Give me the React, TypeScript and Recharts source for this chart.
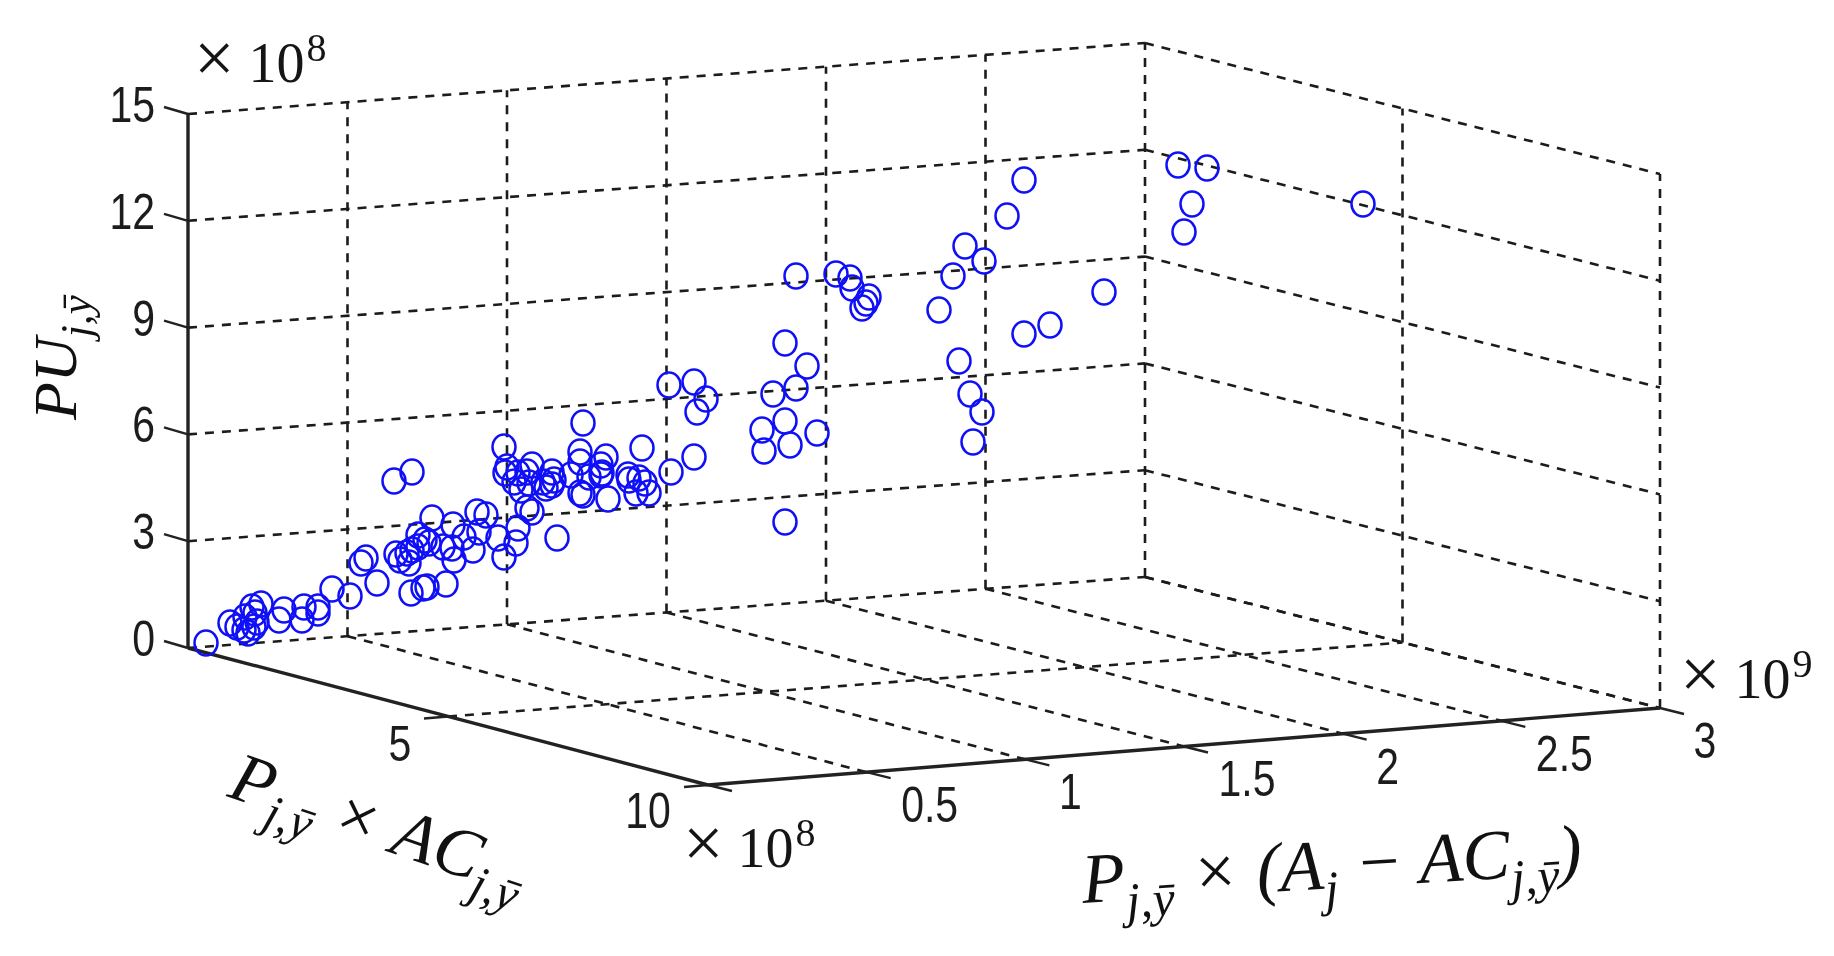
import { ReferenceLine, Scatter, ScatterChart, XAxis, YAxis } from 'recharts';

const WIDTH = 1834;
const HEIGHT = 956;

// Axis ticks, in the plot's own units
const xTicks = [0.5, 1, 1.5, 2, 2.5, 3]; // x 10^9
const yTicks = [5, 10]; // x 10^8
const zTicks = [0, 3, 6, 9, 12, 15]; // x 10^8
const xMax = 3;
const yMax = 10;
const zMax = 15;

// The circles: only their projected position is known,
// so they are kept in picture-plane units (left to right, top to bottom)
const pointPlaneX = [
  1178, 1207, 1192, 1184, 1363, 1024, 1007, 965, 984, 953, 939, 796, 836, 850, 852, 869, 866, 862,
  1104, 1050, 1024, 959, 970, 982, 973, 785, 807, 773, 796, 762, 785, 817, 764, 790, 785, 669, 694,
  706, 697, 642, 694, 671, 606, 628, 639, 636, 649, 608, 602, 583, 580, 580, 601, 601, 580, 583,
  504, 505, 514, 532, 527, 552, 554, 546, 552, 521, 527, 532, 518, 516, 504, 557, 412, 394, 477,
  486, 432, 453, 418, 479, 498, 452, 429, 473, 396, 412, 409, 454, 366, 361, 377, 427, 446, 411,
  423, 332, 350, 261, 252, 284, 304, 318, 255, 279, 302, 318, 237, 254, 244, 206,
  400, 407, 418, 425, 443, 464, 507, 518, 529, 571, 589, 629, 645, 245, 257, 248, 230, 543,
];
const pointPlaneY = [
  165, 168, 204, 232, 204, 180, 216, 246, 261, 276, 310, 276, 274, 278, 288, 297, 303, 308,
  292, 325, 334, 361, 394, 412, 442, 343, 366, 394, 388, 430, 421, 433, 451, 445, 522, 385, 382,
  399, 412, 448, 457, 472, 457, 475, 478, 493, 493, 499, 473, 423, 452, 462, 465, 475, 493, 495,
  447, 473, 482, 465, 472, 472, 480, 488, 485, 490, 508, 512, 528, 543, 557, 538, 472, 481, 512,
  515, 518, 525, 535, 532, 538, 548, 543, 550, 554, 550, 563, 560, 558, 563, 583, 587, 584, 593,
  588, 589, 596, 604, 607, 610, 607, 607, 613, 620, 620, 613, 627, 627, 630, 643,
  560, 553, 547, 540, 547, 537, 467, 473, 483, 475, 477, 480, 483, 617, 622, 633, 623, 482,
];

const points = pointPlaneX.map((px, i) => ({ px, py: pointPlaneY[i] }));

// Floor corners of the plot box on the picture plane, slight perspective included
const FLOOR_A = { px: 188, py: 648 }; // x=0, y=0
const FLOOR_B = { px: 708, py: 785 }; // x=0, y=max
const FLOOR_C = { px: 1660, py: 708 }; // x=max, y=max
const FLOOR_D = { px: 1145, py: 577 }; // x=max, y=0
const BOX_HEIGHT = 534;

function project(x: number, y: number, z: number) {
  const a = x / xMax;
  const b = y / yMax;
  const c = z / zMax;
  const mix = (k: 'px' | 'py') =>
    FLOOR_A[k] * (1 - a) * (1 - b) + FLOOR_D[k] * a * (1 - b) + FLOOR_B[k] * (1 - a) * b + FLOOR_C[k] * a * b;
  return { px: mix('px'), py: mix('py') - c * BOX_HEIGHT };
}

type Pt = { px: number; py: number };
type Seg = [Pt, Pt];

const gridSegments: Seg[] = [
  // back-left wall
  ...zTicks.map((z): Seg => [project(0, 0, z), project(xMax, 0, z)]),
  ...xTicks.map((x): Seg => [project(x, 0, 0), project(x, 0, zMax)]),
  // back-right wall
  ...zTicks.map((z): Seg => [project(xMax, 0, z), project(xMax, yMax, z)]),
  ...yTicks.map((y): Seg => [project(xMax, y, 0), project(xMax, y, zMax)]),
  // floor
  ...xTicks.map((x): Seg => [project(x, 0, 0), project(x, yMax, 0)]),
  [project(0, 5, 0), project(xMax, 5, 0)],
];

const axisSegments: Seg[] = [
  [project(0, 0, 0), project(0, 0, zMax)],
  [project(0, 0, 0), project(0, yMax, 0)],
  [project(0, yMax, 0), project(xMax, yMax, 0)],
];

const shift = (p: Pt, dx: number, dy: number): Pt => ({ px: p.px + dx, py: p.py + dy });

const tickSegments: Seg[] = [
  ...zTicks.map((z): Seg => {
    const p = project(0, 0, z);
    return [p, shift(p, -24, -7)];
  }),
  ...[0, ...xTicks].map((x): Seg => {
    const p = project(x, yMax, 0);
    return [p, shift(p, 24, 6)];
  }),
  ...yTicks.map((y): Seg => {
    const p = project(0, y, 0);
    return [p, shift(p, -24, 2)];
  }),
];

const tickLabels = [
  ...zTicks.map((z) => ({ ...shift(project(0, 0, z), -33, -9), text: String(z), anchor: 'end' })),
  ...xTicks.map((x) => ({
    ...shift(project(x, yMax, 0), Number.isInteger(x) ? 45 : 63, 33),
    text: String(x),
    anchor: 'middle',
  })),
  { ...shift(project(0, 5, 0), -48, 28), text: '5', anchor: 'middle' },
  { ...shift(project(0, 10, 0), -60, 26), text: '10', anchor: 'middle' },
];

function TickLabel(props: any) {
  const { cx, cy, payload } = props;
  return (
    <text
      transform={`translate(${cx} ${cy}) scale(0.82 1)`}
      textAnchor={payload.anchor}
      dominantBaseline="central"
      fontFamily="'Liberation Sans', Arial, sans-serif"
      fontSize={50}
      fill="#1c1c1c"
    >
      {payload.text}
    </text>
  );
}

// "x 10^n" multipliers
const multipliers = [
  { px: 194, py: 82, exp: '8' },
  { px: 683, py: 867, exp: '8' },
  { px: 1680, py: 698, exp: '9' },
];

function Multiplier(props: any) {
  const { cx, cy, payload } = props;
  return (
    <text
      transform={`translate(${cx} ${cy})`}
      fontFamily="'Liberation Serif', 'Times New Roman', serif"
      fontSize={56}
      fill="#151515"
    >
      <tspan fontSize={72}>×</tspan>
      <tspan dx={14}>10</tspan>
      <tspan dx={2} dy={-21} fontSize={40}>{payload.exp}</tspan>
    </text>
  );
}

function Circle(props: any) {
  return (
    <ellipse cx={props.cx} cy={props.cy} rx={11.5} ry={12.6} fill="none" stroke="#1010f8" strokeWidth={2.5} />
  );
}

// Axis titles with their subscripts
const SUB = 'j,ȳ';
const titles = [
  {
    px: 76,
    py: 420,
    angle: -90,
    size: 62,
    parts: [{ t: 'PU' }, { t: SUB, sub: true }],
  },
  {
    px: 226,
    py: 796,
    angle: 19,
    size: 70,
    parts: [{ t: 'P' }, { t: SUB, sub: true }, { t: ' × AC' }, { t: SUB, sub: true }],
  },
  {
    px: 1083,
    py: 903,
    angle: -3.4,
    size: 71,
    parts: [
      { t: 'P' },
      { t: SUB, sub: true },
      { t: ' × (A' },
      { t: 'j', sub: true },
      { t: ' − AC' },
      { t: SUB, sub: true },
      { t: ')' },
    ],
  },
];

function MathTitle(props: any) {
  const { cx, cy, payload } = props;
  const { size, angle, parts } = payload;
  const drop = size * 0.24;
  let level = 0;
  return (
    <text
      transform={`translate(${cx} ${cy}) rotate(${angle})`}
      fontFamily="'Liberation Serif', 'Times New Roman', serif"
      fontStyle="italic"
      fontSize={size}
      fill="#111"
    >
      {parts.map((part: any, i: number) => {
        const target = part.sub ? drop : 0;
        const dy = target - level;
        level = target;
        return (
          <tspan key={i} dy={dy} fontSize={part.sub ? size * 0.7 : size} style={{ whiteSpace: 'pre' }}>
            {part.t}
          </tspan>
        );
      })}
    </text>
  );
}

const segmentOf = (s: Seg) => [
  { x: s[0].px, y: s[0].py },
  { x: s[1].px, y: s[1].py },
];

export default function App() {
  return (
    <div style={{ position: 'absolute', left: 0, top: 0, width: WIDTH, height: HEIGHT, background: '#fff', filter: 'blur(0.6px)' }}>
      <ScatterChart width={WIDTH} height={HEIGHT} margin={{ top: 0, right: 0, bottom: 0, left: 0 }}>
        <XAxis type="number" dataKey="px" domain={[0, WIDTH]} hide />
        <YAxis type="number" dataKey="py" domain={[0, HEIGHT]} reversed hide />
        {gridSegments.map((s, i) => (
          <ReferenceLine
            key={`grid-${i}`}
            segment={segmentOf(s)}
            stroke="#1c1c1c"
            strokeWidth={2.6}
            strokeDasharray="9 8"
            ifOverflow="visible"
          />
        ))}
        {axisSegments.map((s, i) => (
          <ReferenceLine key={`axis-${i}`} segment={segmentOf(s)} stroke="#222" strokeWidth={3.4} ifOverflow="visible" />
        ))}
        {tickSegments.map((s, i) => (
          <ReferenceLine key={`tick-${i}`} segment={segmentOf(s)} stroke="#222" strokeWidth={2.4} ifOverflow="visible" />
        ))}
        <Scatter data={points} shape={Circle} isAnimationActive={false} />
        <Scatter data={tickLabels} shape={TickLabel} isAnimationActive={false} />
        <Scatter data={multipliers} shape={Multiplier} isAnimationActive={false} />
        <Scatter data={titles} shape={MathTitle} isAnimationActive={false} />
      </ScatterChart>
    </div>
  );
}
